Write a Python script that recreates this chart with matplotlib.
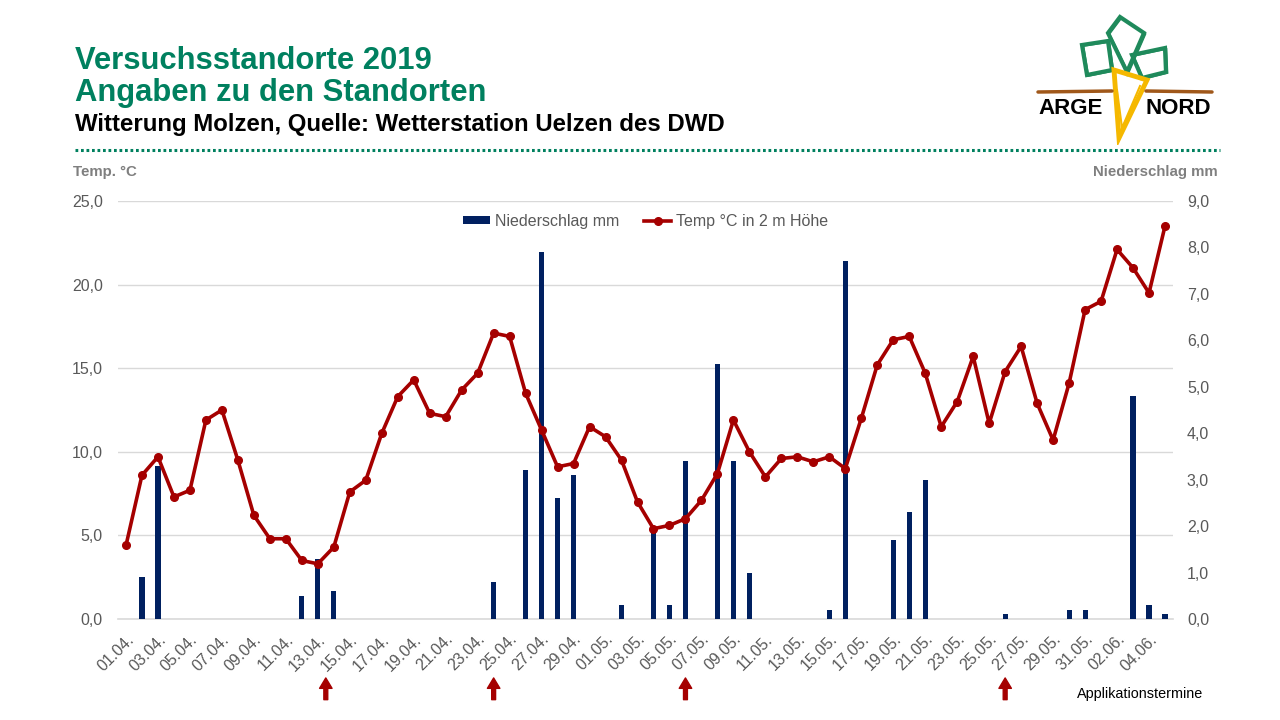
import datetime as dt
import numpy as np
import matplotlib.pyplot as plt
from matplotlib.patches import Polygon
from matplotlib.lines import Line2D

# Tage 01.04. - 05.06.2019
start = dt.date(2019, 4, 1)
tage = [(start + dt.timedelta(days=i)).strftime('%d.%m.') for i in range(66)]

temp = [4.4, 8.6, 9.7, 7.3, 7.7, 11.9, 12.5, 9.5, 6.2, 4.8,
        4.8, 3.5, 3.3, 4.3, 7.6, 8.3, 11.1, 13.3, 14.3, 12.3,
        12.1, 13.7, 14.7, 17.1, 16.9, 13.5, 11.3, 9.1, 9.3, 11.5,
        10.9, 9.5, 7.0, 5.4, 5.6, 6.0, 7.1, 8.7, 11.9, 10.0,
        8.5, 9.6, 9.7, 9.4, 9.7, 9.0, 12.0, 15.2, 16.7, 16.9,
        14.7, 11.5, 13.0, 15.7, 11.7, 14.8, 16.3, 12.9, 10.7, 14.1,
        18.5, 19.0, 22.1, 21.0, 19.5, 23.5]

niederschlag = [0, 0.9, 3.3, 0, 0, 0, 0, 0, 0, 0,
                0, 0.5, 1.3, 0.6, 0, 0, 0, 0, 0, 0,
                0, 0, 0, 0.8, 0, 3.2, 7.9, 2.6, 3.1, 0,
                0, 0.3, 0, 2.0, 0.3, 3.4, 0, 5.5, 3.4, 1.0,
                0, 0, 0, 0, 0.2, 7.7, 0, 0, 1.7, 2.3,
                3.0, 0, 0, 0, 0, 0.1, 0, 0, 0, 0.2,
                0.2, 0, 0, 4.8, 0.3, 0.1]

# Applikationstermine (Position auf der Tagesachse)
applikation = [12.5, 23, 35, 55]

temp_ticks = [0, 5, 10, 15, 20, 25]
ns_ticks = [0, 1, 2, 3, 4, 5, 6, 7, 8, 9]

GREEN = '#00805F'
NAVY = '#002060'
RED = '#A50000'
GREY = '#595959'

plt.rcParams['font.family'] = ['Liberation Sans', 'DejaVu Sans']

W, H = 1280, 720
fig = plt.figure(figsize=(12.8, 7.2), dpi=100)


def box(x0, y0, x1, y1):
    return [x0 / W, 1 - y1 / H, (x1 - x0) / W, (y1 - y0) / H]


# Kopfzeile
fig.text(75 / W, 1 - 61 / H, 'Versuchsstandorte 2019', color=GREEN,
         fontsize=22.3, fontweight='bold', va='center')
fig.text(75 / W, 1 - 93 / H, 'Angaben zu den Standorten', color=GREEN,
         fontsize=22.3, fontweight='bold', va='center')
fig.text(75 / W, 1 - 124 / H, 'Witterung Molzen, Quelle: Wetterstation Uelzen des DWD',
         color='black', fontsize=17.3, fontweight='bold', va='center')
fig.add_artist(Line2D([75 / W, 1220 / W], [1 - 150 / H, 1 - 150 / H], color=GREEN,
                      lw=2.2, linestyle=(0, (0.9, 0.9))))

# Logo ARGE NORD (vereinfacht)
lax = fig.add_axes(box(1030, 10, 1220, 145))
lax.set_xlim(1030, 1220)
lax.set_ylim(145, 10)
lax.axis('off')
lax.plot([1038, 1112], [92, 91], color='#A0581A', lw=2.5, solid_capstyle='round')
lax.plot([1146, 1212], [91, 92], color='#A0581A', lw=2.5, solid_capstyle='round')
blaetter = [
    [(1082, 45), (1108, 41), (1112, 70), (1087, 75)],
    [(1120, 17), (1144, 33), (1127, 72), (1108, 33)],
    [(1132, 55), (1165, 48), (1166, 72), (1142, 78)],
]
for b in blaetter:
    lax.add_patch(Polygon(b, closed=True, fill=False, edgecolor='#1F8A5B', lw=3))
    bb = [(x + 1.5, y + 1) for x, y in b]
    lax.add_patch(Polygon(bb, closed=True, fill=False, edgecolor='#1F8A5B', lw=1.2))
karotte = [(1114, 70), (1147, 80), (1119, 138)]
lax.add_patch(Polygon(karotte, closed=True, fill=False, edgecolor='#F5B800', lw=3.5,
                      joinstyle='miter'))
lax.plot([1117, 1122, 1140], [90, 128, 86], color='#F5B800', lw=1.5)
lax.text(1071, 109, 'ARGE', fontsize=16, fontweight='heavy', ha='center', va='center')
lax.text(1178, 109, 'NORD', fontsize=16, fontweight='heavy', ha='center', va='center')

# Diagramm
ax = fig.add_axes(box(118, 201, 1173, 619))
ax2 = ax.twinx()
x = np.arange(len(tage))

ax.set_ylim(0, 25)
ax.set_yticks(temp_ticks)
ax.set_yticklabels([f'{v:.1f}'.replace('.', ',') for v in temp_ticks])
ax.grid(axis='y', color='#D9D9D9', lw=1)
ax.axhline(0, color='#D9D9D9', lw=1.2, clip_on=False)
ax.set_axisbelow(True)

bars = ax2.bar(x, niederschlag, width=0.32, color=NAVY, label='Niederschlag mm')
line, = ax2.plot(x, temp, color=RED, lw=2.6, marker='o', markersize=5.5,
                 transform=ax.transData, label='Temp °C in 2 m Höhe')
ax2.set_ylim(0, 9)
ax2.set_yticks(ns_ticks)
ax2.set_yticklabels([f'{v:.1f}'.replace('.', ',') for v in ns_ticks])

ax.set_xlim(-0.5, len(tage) - 0.5)
ax.set_xticks(x[::2])
ax.set_xticklabels(tage[::2], rotation=45, ha='right', rotation_mode='anchor')

for a in (ax, ax2):
    for s in a.spines.values():
        s.set_visible(False)
    a.tick_params(length=0, colors=GREY, labelsize=11.5)
ax.tick_params(axis='y', pad=11)
ax2.tick_params(axis='y', pad=10)
ax.tick_params(axis='x', pad=9)

ax2.legend([bars, line], ['Niederschlag mm', 'Temp °C in 2 m Höhe'],
           loc='center', bbox_to_anchor=(0.5, 0.952), ncol=2, frameon=False,
           fontsize=11.5, labelcolor=GREY, handlelength=1.7, handleheight=0.45,
           columnspacing=1.6, handletextpad=0.3)

fig.text(73 / W, 1 - 172 / H, 'Temp. °C', color='#7F7F7F', fontsize=10.8,
         fontweight='bold', va='center')
fig.text(1218 / W, 1 - 172 / H, 'Niederschlag mm', color='#7F7F7F', fontsize=10.8,
         fontweight='bold', va='center', ha='right')

# Pfeile für Applikationstermine
for p in applikation:
    ax.annotate('', xy=(p, -0.141), xycoords=('data', 'axes fraction'),
                xytext=(p, -0.193), textcoords=('data', 'axes fraction'),
                arrowprops=dict(width=2.8, headwidth=9, headlength=7.5,
                                color=RED, shrink=0),
                annotation_clip=False)
fig.text(1203 / W, 1 - 694 / H, 'Applikationstermine', fontsize=10.4, ha='right',
         va='center')

fig.savefig('out.png', dpi=100)
